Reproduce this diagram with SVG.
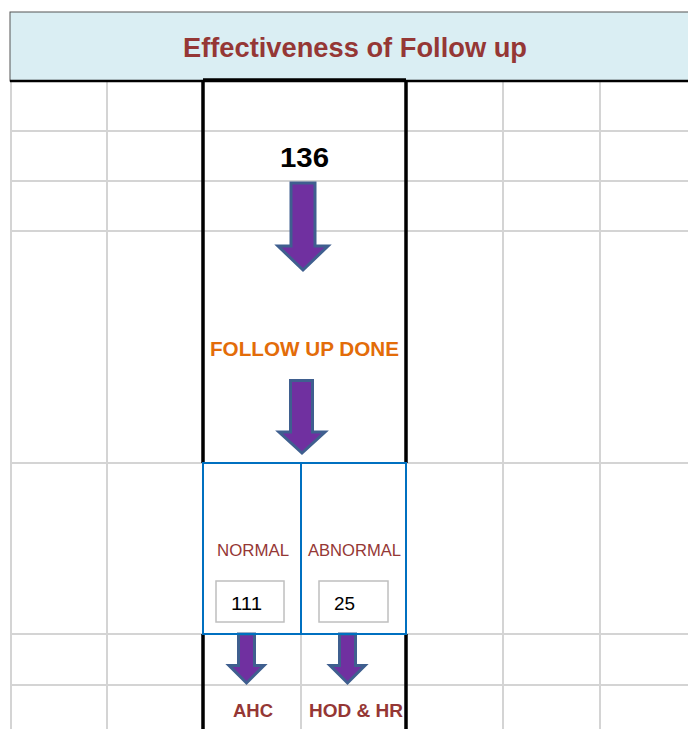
<svg xmlns="http://www.w3.org/2000/svg" width="688" height="729" viewBox="0 0 688 729">
<style>
.grid{stroke:#d4d4d4;stroke-width:2;fill:none}
.blk{stroke:#000;stroke-width:3.5;fill:none}
.blue{stroke:#0070c0;stroke-width:2;fill:none}
.arrow{fill:#7030a0;stroke:#3f5f8f;stroke-width:3;stroke-linejoin:miter}
.t{font-family:"Liberation Sans",Arial,sans-serif}
.red{fill:#953735}
.box{fill:#fff;stroke:#bfbfbf;stroke-width:1.5}
</style>
<rect width="688" height="729" fill="#fff"/>
<g id="grid">
<path class="grid" d="M11,81V729M107,81V729M503,81V729M600,81V729M11,131H688M11,181H688M11,231H688M11,463H688M11,634H688M11,685H688M301,634V729"/>
</g>
<g id="title">
<rect x="10" y="12" width="690" height="69" fill="#daeef3" stroke="#555" stroke-width="1"/>
<line x1="10" y1="81" x2="688" y2="81" stroke="#000" stroke-width="2.5"/>
<text class="t red" x="355" y="57" font-size="27" font-weight="bold" text-anchor="middle" textLength="344" lengthAdjust="spacingAndGlyphs">Effectiveness of Follow up</text>
</g>
<g id="column">
<path class="blk" d="M203,80H406M203,80V463M406,80V463M203,634V729M406,634V729"/>
</g>
<g id="connectors">
<polygon class="arrow" points="291,183 315,183 315,246 328,246 303,270 278,246 291,246"/>
<polygon class="arrow" points="290.5,380.5 312.5,380.5 312.5,432 325,432 302,453 279,432 290.5,432"/>
<polygon class="arrow" points="238.5,634 254.5,634 254.5,665.5 264,665.5 246.5,683 229,665.5 238.5,665.5"/>
<polygon class="arrow" points="339.5,634 355.5,634 355.5,665.5 365,665.5 347.5,683 330,665.5 339.5,665.5"/>
</g>
<g id="count">
<text class="t" x="304.5" y="167" font-size="28" font-weight="bold" text-anchor="middle" fill="#000" textLength="49" lengthAdjust="spacingAndGlyphs">136</text>
</g>
<g id="followup">
<text class="t" x="304.5" y="356" font-size="20" font-weight="bold" text-anchor="middle" fill="#e36c09" textLength="189" lengthAdjust="spacingAndGlyphs">FOLLOW UP DONE</text>
</g>
<g id="results">
<rect class="blue" x="203" y="463" width="203" height="171"/>
<line class="blue" x1="301" y1="463" x2="301" y2="634"/>
</g>
<g id="normal">
<text class="t red" x="253" y="556" font-size="17" text-anchor="middle" textLength="72" lengthAdjust="spacingAndGlyphs">NORMAL</text>
<rect class="box" x="216" y="581" width="68" height="41"/>
<text class="t" x="246.5" y="610" font-size="18" text-anchor="middle" fill="#000" textLength="31" lengthAdjust="spacingAndGlyphs">111</text>
</g>
<g id="abnormal">
<text class="t red" x="354.5" y="556" font-size="17" text-anchor="middle" textLength="93" lengthAdjust="spacingAndGlyphs">ABNORMAL</text>
<rect class="box" x="319" y="581" width="69" height="41"/>
<text class="t" x="344.5" y="610" font-size="18" text-anchor="middle" fill="#000" textLength="21" lengthAdjust="spacingAndGlyphs">25</text>
</g>
<g id="ahc">
<text class="t red" x="253" y="717" font-size="19" font-weight="bold" text-anchor="middle" textLength="40" lengthAdjust="spacingAndGlyphs">AHC</text>
</g>
<g id="hodhr">
<text class="t red" x="356" y="717" font-size="19" font-weight="bold" text-anchor="middle" textLength="94" lengthAdjust="spacingAndGlyphs">HOD &amp; HR</text>
</g>
</svg>
